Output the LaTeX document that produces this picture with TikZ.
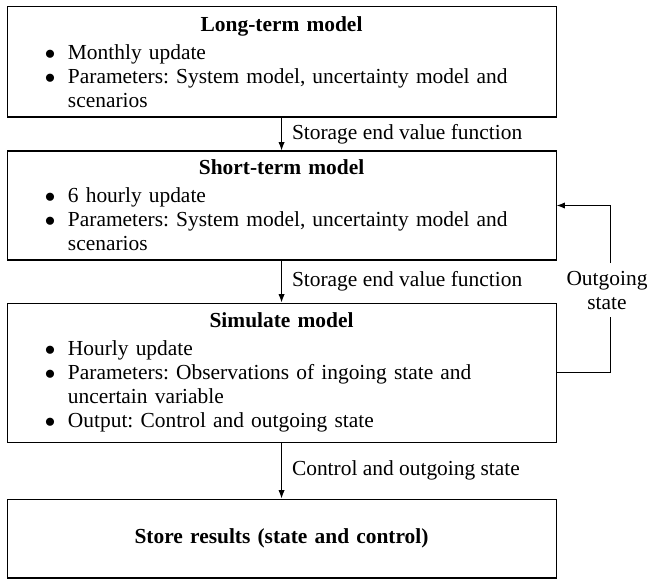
\documentclass[tikz,border=0pt]{standalone}
\usepackage{fontspec}
\setmainfont{Liberation Serif}
\usetikzlibrary{arrows.meta}
\hyphenpenalty=10000
\frenchspacing
\newcommand\btitle[1]{{\centering\textbf{#1}\par}\vspace{2pt}}
\newcommand\bitem[1]{\par\noindent\leftskip=29pt\relax\llap{$\bullet$\hspace{6pt}}#1\par}
\newcommand\bcont[1]{\par\noindent\leftskip=29pt\relax #1\par}
\tikzset{
  box/.style={draw, line width=0.5pt, text width=261.4pt, inner xsep=0pt, inner ysep=0pt,
    align=left, font=\fontsize{10.2}{11.4}\selectfont},
  arr/.style={-{Latex[length=4pt,width=3pt]}, line width=0.5pt},
  lbl/.style={font=\fontsize{10.2}{11.4}\selectfont},
  elbl/.style={lbl, right, xshift=1.4pt}
}
\begin{document}
\begin{tikzpicture}
\useasboundingbox (0,0) rectangle (309pt,-275.7pt);
\node[box, minimum height=52.4pt] (lt) at (134.05pt,-29.5pt)
  {\btitle{Long-term model}\bitem{Monthly update}\bitem{Parameters: System model, uncertainty model and}\bcont{scenarios}};
\node[box, minimum height=51.9pt] (st) at (134.05pt,-97.85pt)
  {\btitle{Short-term model}\bitem{6 hourly update}\bitem{Parameters: System model, uncertainty model and}\bcont{scenarios}};
\node[box, minimum height=66.2pt] (sim) at (134.05pt,-177.4pt)
  {\btitle{Simulate model}\bitem{Hourly update}\bitem{Parameters: Observations of ingoing state and}\bcont{uncertain variable}\bitem{Output: Control and outgoing state}};
\node[box, minimum height=37.6pt, align=center] (res) at (134.05pt,-256.4pt)
  {\textbf{Store results (state and control)}};
\draw[arr] (lt) -- node[elbl] {Storage end value function} (st);
\draw[arr] (st) -- node[elbl] {Storage end value function} (sim);
\draw[arr] (sim) -- node[elbl] {Control and outgoing state} (res);
\node[lbl, align=center, inner sep=3.5pt] (og) at (289pt,-138.1pt) {Outgoing\\state};
\draw[line width=0.5pt] (sim.east) -| ([xshift=1.5pt]og.south);
\draw[arr] ([xshift=1.5pt]og.north) |- (st.east);
\end{tikzpicture}
\end{document}
